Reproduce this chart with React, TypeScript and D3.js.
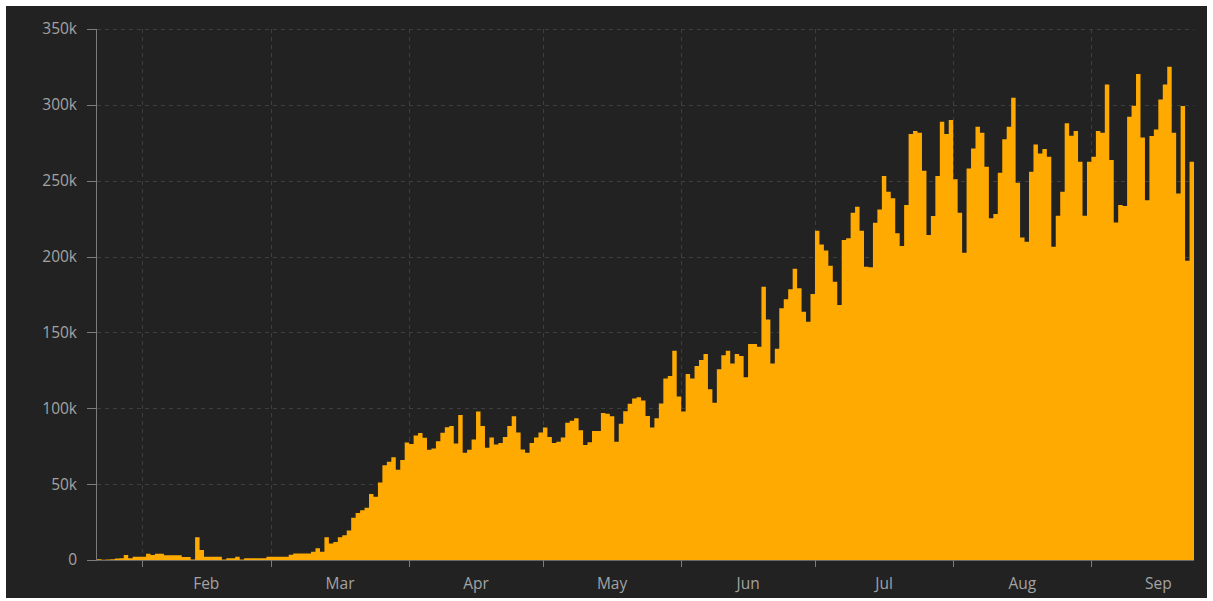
import React, { useEffect, useRef } from 'react';
import * as d3 from 'd3';

const width = 1213;
const height = 601;
const padding = { left: 97, right: 19, top: 29, down: 41 };

// first day of the series, one bar per day after it
const startDate = '2020-01-22';
const endDate = '2020-09-24';

const yTicks = [0, 50000, 100000, 150000, 200000, 250000, 300000, 350000];
const monthTicks = ['2020-02-01', '2020-03-01', '2020-04-01', '2020-05-01', '2020-06-01', '2020-07-01', '2020-08-01', '2020-09-01'];
const monthLabels = ['Feb', 'Mar', 'Apr', 'May', 'Jun', 'Jul', 'Aug', 'Sep'];

// daily new cases
const dailyCases = [
  550, 100, 290, 490, 1000, 1100, 3300, 1100, 2200, 2200,
  2200, 4200, 3300, 4200, 4200, 3200, 3200, 3200, 3200, 2000,
  2000, 300, 15000, 6600, 2200, 2200, 2200, 2200, 300, 1100,
  1100, 2200, 300, 1100, 1100, 1100, 1100, 1100, 2200, 2200,
  2200, 2200, 2200, 3500, 4300, 4300, 4300, 4300, 5500, 7800,
  5500, 15000, 10800, 11800, 15000, 16300, 19500, 27900, 30900, 32800,
  34500, 43500, 41700, 51100, 62500, 64700, 67700, 59500, 65900, 77500,
  76500, 82000, 83700, 80500, 72700, 73500, 78300, 83800, 87500, 88300,
  76800, 95600, 70700, 72700, 79500, 97800, 88400, 74000, 80800, 76100,
  77100, 81000, 88300, 94700, 84000, 72900, 70700, 77100, 80800, 84000,
  87300, 81000, 77100, 78000, 80800, 90500, 91800, 93500, 85500, 75800,
  77600, 85000, 85100, 96900, 96400, 94700, 78000, 89800, 98100, 103000,
  106500, 107200, 105200, 94900, 87400, 93400, 103200, 119700, 121300, 138000,
  107700, 97800, 122600, 119700, 127900, 131800, 135800, 112500, 103700, 125700,
  134900, 138000, 129600, 135800, 134500, 120400, 142400, 142400, 140600, 180100,
  158600, 129600, 139300, 165900, 171800, 178400, 192000, 179100, 163700, 157100,
  175300, 217000, 208000, 204000, 194000, 183400, 168000, 210900, 212000, 228900,
  232900, 217000, 193300, 193000, 222300, 231100, 253100, 242700, 238400, 215300,
  207000, 234000, 280800, 282700, 281600, 256600, 214200, 226700, 253100, 288900,
  280800, 290000, 250900, 228900, 202500, 258100, 271300, 285600, 281600, 259200,
  225200, 228000, 255300, 277300, 285600, 304700, 248700, 212600, 209800, 255900,
  273900, 268000, 270900, 265800, 206500, 226900, 242700, 287800, 279700, 282700,
  262500, 226900, 262500, 265800, 282700, 281600, 313500, 263600, 222500, 234000,
  233300, 292200, 299400, 320300, 278500, 237200, 279400, 283800, 303600, 313500,
  325100, 281600, 241600, 299200, 197300, 262500
];

const colors = {
  page: '#ffffff',
  panel: '#222222',
  grid: '#3e3e3e',
  axis: '#7c7c7c',
  text: '#a3a3a3',
  bar: '#ffaa00'
};

export default function App() {
  const ref = useRef<SVGSVGElement>(null);

  useEffect(() => {
    const svg = d3.select(ref.current);
    svg.selectAll('*').remove();

    const start = new Date(startDate);
    const data = dailyCases.map((v, i) => ({ date: d3.utcDay.offset(start, i), value: v }));
    // closing point so the last day's bar gets its full width
    const stepData = data.concat([{ date: new Date(endDate), value: dailyCases[dailyCases.length - 1] }]);

    const xScale = d3.scaleUtc()
      .domain([start, new Date(endDate)])
      .range([padding.left, width - padding.right]);

    const yScale = d3.scaleLinear()
      .domain([0, 350000])
      .range([height - padding.down, padding.top]);

    const x0 = padding.left;
    const x1 = width - padding.right;
    const yBottom = height - padding.down;

    // page + dark panel
    svg.append('rect').attr('width', width).attr('height', height).attr('fill', colors.page);
    svg.append('rect')
      .attr('x', 6).attr('y', 6)
      .attr('width', width - 12).attr('height', height - 9)
      .attr('fill', colors.panel);

    // dashed grid
    const grid = svg.append('g')
      .attr('stroke', colors.grid)
      .attr('stroke-dasharray', '4,4')
      .attr('stroke-width', 1);

    grid.selectAll('.hgrid')
      .data(yTicks.filter(d => d > 0))
      .enter().append('line')
      .attr('x1', x0).attr('x2', x1)
      .attr('y1', d => Math.round(yScale(d)) + 0.5)
      .attr('y2', d => Math.round(yScale(d)) + 0.5);

    const months = monthTicks.map(d => new Date(d));

    grid.selectAll('.vgrid')
      .data(months)
      .enter().append('line')
      .attr('x1', d => Math.round(xScale(d)) + 0.5)
      .attr('x2', d => Math.round(xScale(d)) + 0.5)
      .attr('y1', padding.top)
      .attr('y2', yBottom);

    // daily bars as one stepped area (no seams between neighbours)
    const bars = d3.area<{ date: Date, value: number }>()
      .curve(d3.curveStepAfter)
      .x(d => xScale(d.date))
      .y0(yBottom)
      .y1(d => yScale(d.value));

    svg.append('path')
      .datum(stepData)
      .attr('d', bars)
      .attr('fill', colors.bar);

    // y axis
    const yAxisG = svg.append('g');
    yAxisG.append('line')
      .attr('x1', x0 - 0.5).attr('x2', x0 - 0.5)
      .attr('y1', padding.top).attr('y2', yBottom)
      .attr('stroke', colors.axis);

    yAxisG.selectAll('.ytick')
      .data(yTicks)
      .enter().append('line')
      .attr('x1', x0 - 10).attr('x2', x0)
      .attr('y1', d => Math.round(yScale(d)) + 0.5)
      .attr('y2', d => Math.round(yScale(d)) + 0.5)
      .attr('stroke', colors.axis);

    yAxisG.selectAll('.ylabel')
      .data(yTicks)
      .enter().append('text')
      .attr('x', x0 - 20)
      .attr('y', d => yScale(d))
      .attr('dy', '0.35em')
      .attr('text-anchor', 'end')
      .attr('fill', colors.text)
      .style('font-family', '"Open Sans", sans-serif')
      .style('font-size', '15.5px')
      .text(d => d === 0 ? '0' : `${d / 1000}k`);

    // x axis
    const xAxisG = svg.append('g');
    xAxisG.append('line')
      .attr('x1', x0).attr('x2', x1)
      .attr('y1', yBottom + 0.5).attr('y2', yBottom + 0.5)
      .attr('stroke', colors.axis)
      .attr('stroke-opacity', 0.8);

    xAxisG.selectAll('.xtick')
      .data(months)
      .enter().append('line')
      .attr('x1', d => Math.round(xScale(d)) + 0.5)
      .attr('x2', d => Math.round(xScale(d)) + 0.5)
      .attr('y1', yBottom).attr('y2', yBottom + 7)
      .attr('stroke', colors.axis);

    xAxisG.selectAll('.xlabel')
      .data(months)
      .enter().append('text')
      .attr('x', (d) => (xScale(d) + xScale(d3.utcMonth.offset(d, 1))) / 2)
      .attr('y', yBottom + 29)
      .attr('text-anchor', 'middle')
      .attr('fill', colors.text)
      .style('font-family', '"Open Sans", sans-serif')
      .style('font-size', '15.5px')
      .text((d, i) => monthLabels[i]);
  }, []);

  return <svg ref={ref} width={width} height={height}
    style={{ position: 'absolute', left: 0, top: 0, display: 'block' }} />;
}
